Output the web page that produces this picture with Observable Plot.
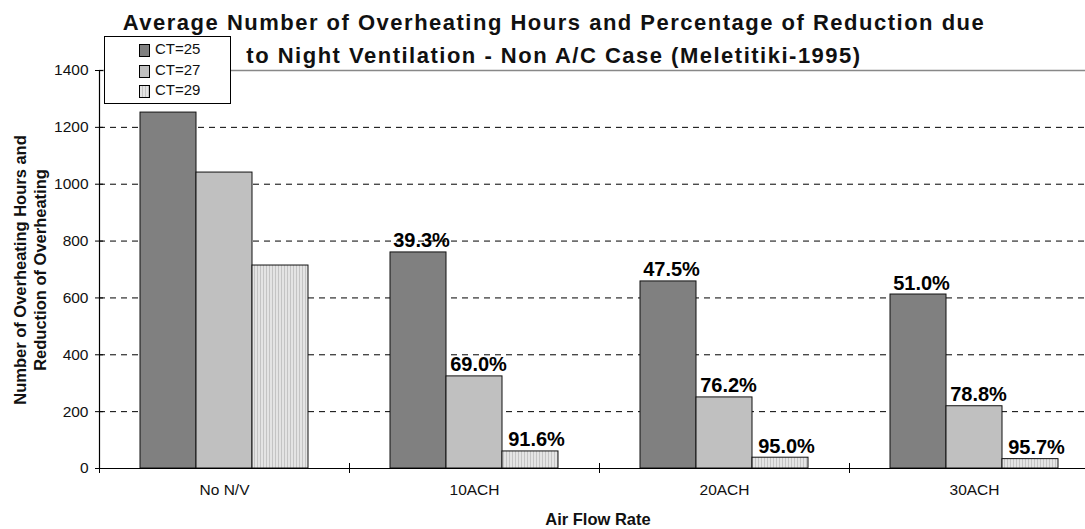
<!DOCTYPE html>
<html>
<head>
<meta charset="utf-8">
<script src="https://cdn.jsdelivr.net/npm/d3@7"></script>
<script src="https://cdn.jsdelivr.net/npm/@observablehq/plot@0.6"></script>
<style>
  html, body { margin: 0; padding: 0; background: #fff; }
  #wrap { position: relative; width: 1085px; height: 529px; overflow: hidden; font-family: "Liberation Sans", Arial, sans-serif; }
  #title { position: absolute; left: 24px; top: 6px; width: 1060px; text-align: center; font-weight: bold; font-size: 22px; letter-spacing: 1.5px; line-height: 33px; color: #111; }
  #legend { position: absolute; left: 104px; top: 36px; width: 125px; height: 66px; border: 1px solid #000; background: #fff; font-size: 15px; color: #111; }
  .li { position: absolute; left: 34px; height: 14px; line-height: 14px; }
  .sw { position: absolute; left: 0; top: 1px; width: 9px; height: 11px; border: 1px solid #000; }
  .li span.t { position: absolute; left: 16px; top: -1px; white-space: nowrap; }
  #ylab { position: absolute; left: 30px; top: 270px; width: 420px; transform: translate(-50%, -50%) rotate(-90deg); text-align: center; font-weight: bold; font-size: 16.5px; line-height: 20px; color: #111; }
  #xlab { position: absolute; left: 498px; top: 510px; width: 200px; text-align: center; font-weight: bold; font-size: 16.5px; color: #111; }
  svg { display: block; max-width: none !important; }
</style>
</head>
<body>
<div id="wrap">
  <div id="chart"></div>
  <div id="title"></div>
  <div id="legend"></div>
  <div id="ylab"></div>
  <div id="xlab"></div>
</div>
<script>
const titleLines = ["Average Number of Overheating Hours and Percentage of Reduction due", "to Night Ventilation - Non A/C Case (Meletitiki-1995)"];
const yLabelLines = ["Number of Overheating Hours and", "Reduction of Overheating"];
const xLabel = "Air Flow Rate";
const groups = ["No N/V", "10ACH", "20ACH", "30ACH"];
const seriesNames = ["CT=25", "CT=27", "CT=29"];
const ct25 = [1252, 760, 658, 612];
const ct27 = [1041, 324, 250, 219];
const ct29 = [714, 60, 38, 33];
const pct25 = ["", "39.3%", "47.5%", "51.0%"];
const pct27 = ["", "69.0%", "76.2%", "78.8%"];
const pct29 = ["", "91.6%", "95.0%", "95.7%"];
const yTicks = [0, 200, 400, 600, 800, 1000, 1200, 1400];
const gridTicks = [200, 400, 600, 800, 1000, 1200];

const rows = groups.map((g, i) => ({group: g, ct25: ct25[i], ct27: ct27[i], ct29: ct29[i], p25: pct25[i], p27: pct27[i], p29: pct29[i]}));

document.getElementById("title").innerHTML = titleLines.join("<br>");
document.getElementById("ylab").innerHTML = yLabelLines.join("<br>");
document.getElementById("xlab").textContent = xLabel;

const swatchBg = [
  "background:#808080",
  "background:#c0c0c0",
  "background:repeating-linear-gradient(90deg,#e4e4e4 0px,#e4e4e4 2px,#c4c4c4 2px,#c4c4c4 3px)"
];
const legendTops = [6, 27, 47];
document.getElementById("legend").innerHTML = seriesNames.map((n, i) =>
  `<div class="li" style="top:${legendTops[i]}px"><div class="sw" style="${swatchBg[i]}"></div><span class="t">${n}</span></div>`
).join("");

const font = "Liberation Sans, Arial, sans-serif";
const lab = {fontWeight: "bold", fontSize: 20, lineAnchor: "bottom", dy: -5, fill: "#000", fontFamily: font};

const chart = Plot.plot({
  width: 1085,
  height: 529,
  marginLeft: 99,
  marginRight: -14,
  marginTop: 70,
  marginBottom: 61,
  style: {fontFamily: font, fontSize: "15px", color: "#111", background: "white", overflow: "visible"},
  x: {type: "band", domain: groups, padding: 0, label: null},
  y: {domain: [0, 1400], label: null},
  marks: [
    Plot.ruleY(gridTicks, {stroke: "#000", strokeDasharray: "6,5", strokeWidth: 1}),
    Plot.ruleY([1400], {stroke: "#888", strokeWidth: 1.5}),
    Plot.barY(rows, {x: "group", y: "ct25", fill: "#808080", stroke: "#111", strokeWidth: 1, insetLeft: 41, insetRight: 153}),
    Plot.barY(rows, {x: "group", y: "ct27", fill: "#c0c0c0", stroke: "#111", strokeWidth: 1, insetLeft: 97, insetRight: 97}),
    Plot.barY(rows, {x: "group", y: "ct29", fill: "url(#hatch29)", stroke: "#111", strokeWidth: 1, insetLeft: 153, insetRight: 41}),
    Plot.text(rows, {x: "group", y: "ct25", text: "p25", dx: -53, ...lab}),
    Plot.text(rows, {x: "group", y: "ct27", text: "p27", dx: 4, ...lab}),
    Plot.text(rows, {x: "group", y: "ct29", text: "p29", dx: 62, ...lab}),
    Plot.ruleY([0], {stroke: "#000", strokeWidth: 1.2}),
    Plot.ruleX(groups.slice(0, 1), {x: d => d, dx: -125, stroke: "#000", strokeWidth: 1.2}),
    Plot.axisY({ticks: yTicks, tickSize: 8, dx: 4, tickFormat: () => "", stroke: "#000"}),
    Plot.text(yTicks, {y: d => d, text: d => String(d), frameAnchor: "left", textAnchor: "end", dx: -11, fontSize: 15.5, fill: "#111", fontFamily: font}),
    Plot.axisX({tickSize: 10, dy: -5, dx: -125, tickFormat: () => "", stroke: "#000"}),
    Plot.axisX({tickSize: 0, tickPadding: 15, fontSize: 15.5, fill: "#111"})
  ]
});

const svg = d3.select(chart);
const defs = svg.insert("defs", ":first-child");
const pat = defs.append("pattern").attr("id", "hatch29").attr("patternUnits", "userSpaceOnUse").attr("width", 3).attr("height", 4);
pat.append("rect").attr("width", 3).attr("height", 4).attr("fill", "#e4e4e4");
pat.append("rect").attr("x", 2).attr("width", 1).attr("height", 4).attr("fill", "#c4c4c4");

document.getElementById("chart").appendChild(chart);
</script>
</body>
</html>
